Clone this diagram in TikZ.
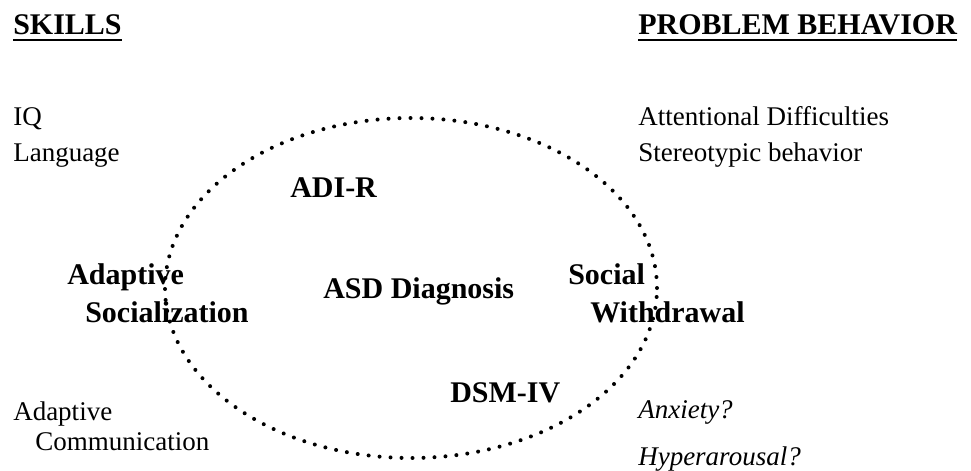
\documentclass[tikz,border=0pt]{standalone}
\usepackage{fontspec}
\setmainfont{Liberation Serif}
\tikzset{
	lbl/.style={inner sep=0pt, anchor=base west, font=\fontsize{20.25}{24}\selectfont},
	bold/.style={lbl, font=\fontsize{22.5}{27}\selectfont\bfseries},
	ital/.style={lbl, font=\fontsize{20.25}{24}\selectfont\itshape},
	dots/.style={line width=3pt, line cap=round, dash pattern=on 0pt off 8.25pt}
}
\begin{document}
\begin{tikzpicture}[x=0.75pt, y=-0.75pt]
		\useasboundingbox (0,0) rectangle (971,471);

		% headings
		\node[bold] (skills) at (13, 34) {SKILLS};
		\node[bold] (prob) at (638, 34) {PROBLEM BEHAVIOR};
		\draw[line width=1.5pt] ([yshift=-4.5pt]skills.base west) -- ([yshift=-4.5pt]skills.base east);
		\draw[line width=1.5pt] ([yshift=-4.5pt]prob.base west) -- ([yshift=-4.5pt]prob.base east);

		% skills side
		\node[lbl] (iq) at (13, 125) {IQ};
		\node[lbl] (lang) at (13, 161) {Language};
		\node[lbl] (adcom1) at (13, 420) {Adaptive};
		\node[lbl] (adcom2) at (35, 450) {Communication};

		% problem side
		\node[lbl] (att) at (638, 125) {Attentional Difficulties};
		\node[lbl] (stereo) at (638, 161) {Stereotypic behavior};
		\node[ital] (anx) at (638, 418) {Anxiety?};
		\node[ital] (hyper) at (638, 465) {Hyperarousal?};

		% ellipse
		\draw[dots] (411, 288) ellipse (184.5pt and 127.5pt);

		\node[bold] (adi) at (290, 197) {ADI-R};
		\node[bold] (asd) at (323, 298) {ASD Diagnosis};
		\node[bold] (dsm) at (450, 402) {DSM-IV};
		\node[bold] (adsoc1) at (67, 284) {Adaptive};
		\node[bold] (adsoc2) at (85, 322) {Socialization};
		\node[bold] (sw1) at (568, 284) {Social};
		\node[bold] (sw2) at (590, 322) {Withdrawal};

	\end{tikzpicture}
\end{document}
